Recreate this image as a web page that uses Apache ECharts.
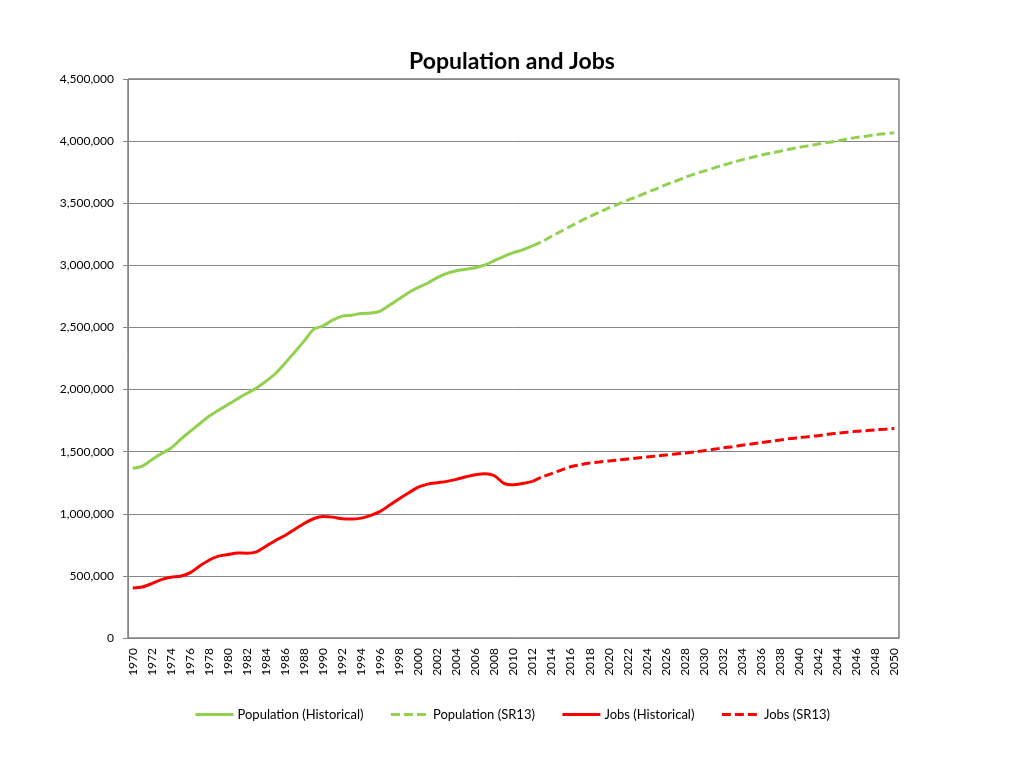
<!DOCTYPE html>
<html>
<head>
<meta charset="utf-8">
<script src="https://cdn.jsdelivr.net/npm/echarts@6/dist/echarts.min.js"></script>
<style>
  html, body { margin: 0; padding: 0; background: #fff; }
  #chart { width: 1024px; height: 768px; }
</style>
</head>
<body>
<div id="chart"></div>
<script>
const years = [
  "1970","1971","1972","1973","1974","1975","1976","1977","1978","1979",
  "1980","1981","1982","1983","1984","1985","1986","1987","1988","1989",
  "1990","1991","1992","1993","1994","1995","1996","1997","1998","1999",
  "2000","2001","2002","2003","2004","2005","2006","2007","2008","2009",
  "2010","2011","2012","2013","2014","2015","2016","2017","2018","2019",
  "2020","2021","2022","2023","2024","2025","2026","2027","2028","2029",
  "2030","2031","2032","2033","2034","2035","2036","2037","2038","2039",
  "2040","2041","2042","2043","2044","2045","2046","2047","2048","2049",
  "2050"
];

// 1970-2012
const popHistorical = [
  1366000, 1384000, 1435000, 1484000, 1527000, 1597000, 1661000, 1723000, 1785000, 1833000,
  1879000, 1925000, 1970000, 2013000, 2067000, 2129000, 2212000, 2301000, 2390000, 2484000,
  2513000, 2559000, 2591000, 2599000, 2613000, 2616000, 2632000, 2680000, 2731000, 2782000,
  2823000, 2858000, 2901000, 2935000, 2957000, 2968000, 2981000, 3003000, 3038000, 3073000,
  3102000, 3126000, 3156000
];

// 2012-2050
const popSR13 = [
  3156000, 3191000, 3234000, 3274000, 3315000, 3355000, 3392000, 3427000, 3462000, 3492000,
  3524000, 3554000, 3586000, 3616000, 3648000, 3677000, 3707000, 3734000, 3758000, 3782000,
  3806000, 3828000, 3849000, 3868000, 3887000, 3903000, 3919000, 3935000, 3949000, 3962000,
  3976000, 3989000, 4000000, 4016000, 4030000, 4040000, 4051000, 4059000, 4067000
];

// 1970-2012
const jobsHistorical = [
  403000, 411000, 438000, 470000, 489000, 497000, 524000, 578000, 626000, 659000,
  672000, 685000, 683000, 694000, 739000, 785000, 825000, 874000, 922000, 960000,
  978000, 973000, 960000, 957000, 965000, 987000, 1019000, 1070000, 1121000, 1169000,
  1215000, 1239000, 1250000, 1261000, 1277000, 1298000, 1315000, 1323000, 1306000, 1245000,
  1234000, 1245000, 1261000
];

// 2012-2050
const jobsSR13 = [
  1261000, 1296000, 1323000, 1352000, 1379000, 1395000, 1409000, 1417000, 1425000, 1433000,
  1441000, 1449000, 1457000, 1465000, 1473000, 1481000, 1489000, 1497000, 1508000, 1519000,
  1530000, 1540000, 1551000, 1562000, 1573000, 1583000, 1594000, 1605000, 1613000, 1621000,
  1629000, 1640000, 1648000, 1656000, 1664000, 1669000, 1675000, 1680000, 1686000
];

const seriesNames = ["Population (Historical)", "Population (SR13)", "Jobs (Historical)", "Jobs (SR13)"];
const GREEN = "#92D050";
const RED = "#FF0000";
const FONT = "Lato, 'Open Sans', sans-serif";

function padFront(values) {
  const offset = years.length - values.length;
  return years.map((y, i) => i < offset ? null : values[i - offset]);
}
function padBack(values) {
  return years.map((y, i) => i < values.length ? values[i] : null);
}

function lineSeries(name, data, color, dashed) {
  return {
    name,
    type: "line",
    data,
    smooth: 0.3,
    showSymbol: false,
    symbol: "none",
    connectNulls: false,
    lineStyle: { color, width: 3, type: dashed ? [9, 4] : "solid" },
    itemStyle: { color },
  };
}

const chart = echarts.init(document.getElementById("chart"));
chart.setOption({
  animation: false,
  backgroundColor: "#fff",
  title: {
    text: "Population and Jobs",
    left: "center",
    top: 45,
    textStyle: { fontFamily: FONT, fontSize: 23, fontWeight: "bold", color: "#000" },
  },
  grid: {
    left: 128, right: 125, top: 79, bottom: 130,
    show: true, borderColor: "#404040", borderWidth: 1,
  },
  legend: {
    bottom: 42,
    left: "center",
    itemWidth: 38,
    itemHeight: 4,
    itemGap: 26,
    data: seriesNames,
    lineStyle: { width: 3 },
    itemStyle: { borderWidth: 0 },
    textStyle: { fontFamily: FONT, fontSize: 13, color: "#000", padding: [0, 0, 0, -1] },
  },
  xAxis: {
    type: "category",
    data: years,
    boundaryGap: true,
    axisLine: { lineStyle: { color: "#868686" } },
    axisTick: { interval: 0, length: 5, lineStyle: { color: "#868686" } },
    axisLabel: {
      interval: 1,
      rotate: 90,
      fontFamily: FONT,
      fontSize: 12,
      color: "#000",
      margin: 10,
    },
    splitLine: { show: false },
  },
  yAxis: {
    type: "value",
    min: 0,
    max: 4500000,
    interval: 500000,
    axisLine: { show: true, lineStyle: { color: "#868686" } },
    axisTick: { show: true, length: 5, lineStyle: { color: "#868686" } },
    axisLabel: {
      fontFamily: FONT,
      fontSize: 12,
      color: "#000",
      margin: 14,
      formatter: v => v.toLocaleString("en-US"),
    },
    splitLine: { lineStyle: { color: "#868686", width: 1 } },
  },
  series: [
    lineSeries(seriesNames[0], padBack(popHistorical), GREEN, false),
    lineSeries(seriesNames[1], padFront(popSR13), GREEN, true),
    lineSeries(seriesNames[2], padBack(jobsHistorical), RED, false),
    lineSeries(seriesNames[3], padFront(jobsSR13), RED, true),
  ],
});
</script>
</body>
</html>
